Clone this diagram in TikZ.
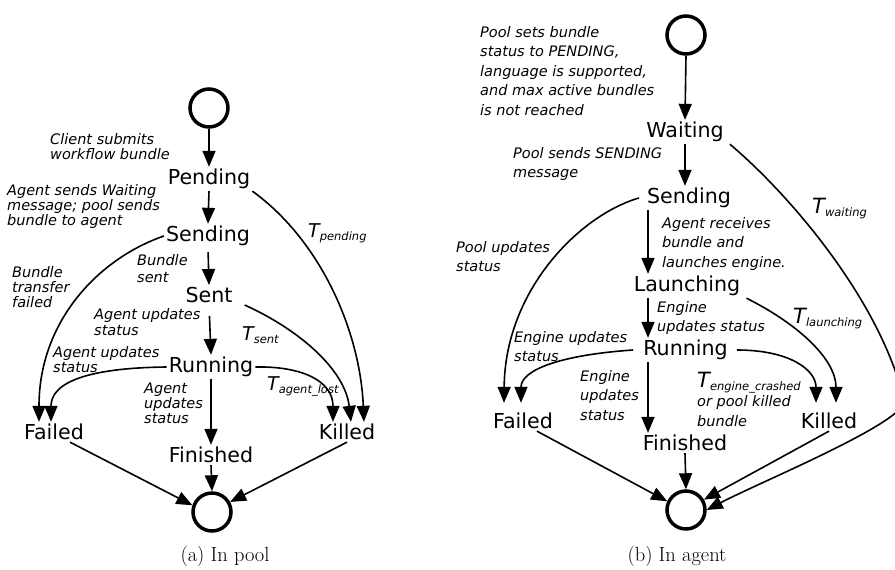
\documentclass[tikz,border=0pt]{standalone}
\usepackage{fontspec}
\usetikzlibrary{arrows.meta,positioning}
\newfontfamily\dejavu{DejaVu Sans}
\newcommand{\Tlab}[1]{T\raisebox{-3.5pt}{\fontsize{11.5}{12}\selectfont #1}}

\begin{document}
\begin{tikzpicture}[x=1pt,y=-1pt,
  state/.style={font=\dejavu\fontsize{20.6}{24}\selectfont, inner sep=2pt},
  term/.style={circle, draw, line width=3.5pt, minimum size=38pt, inner sep=0pt},
  trans/.style={line width=1.6pt, -{Triangle[length=16pt,width=13pt]}},
  lab/.style={font=\dejavu\itshape\fontsize{14.5}{15}\selectfont, align=left, anchor=north west, inner sep=0pt},
  labR/.style={lab, font=\dejavu\itshape\fontsize{14.5}{19.5}\selectfont},
  tlab/.style={font=\dejavu\itshape\fontsize{19}{21}\selectfont, anchor=base west, inner sep=0pt},
  tlabR/.style={tlab, font=\dejavu\itshape\fontsize{21}{23}\selectfont},
  subcap/.style={font=\fontsize{20.5}{22}\selectfont}]
\useasboundingbox (0,0) rectangle (895,570);

% (a) in pool
\node[term] (startL) at (209,108) {};
\node[state] (pendL) at (209,179) {Pending};
\node[state] (sendL) at (208,236) {Sending};
\node[state] (sentL) at (209,295) {Sent};
\node[state] (runL) at (211,367) {Running};
\node[state] (failL) at (54,432) {Failed};
\node[state] (killL) at (347,432) {Killed};
\node[state] (finL) at (211,455) {Finished};
\node[term] (endL) at (212,512) {};

\node[lab] (l1) at (50,133) {Client submits\\workflow bundle};
\node[lab] (l2) at (7,184) {Agent sends Waiting\\message; pool sends\\bundle to agent};
\node[lab] (l3) at (137,254) {Bundle\\[2pt]sent};
\node[lab] (l4) at (12,266) {Bundle\\transfer\\failed};
\node[lab] (l5) at (94,308) {Agent updates\\[1pt]status};
\node[lab] (l6) at (53,346) {Agent updates\\status};
\node[lab] (l7) at (144,383) {Agent\\updates\\status};
\node[tlab] (t1) at (308,237) {\Tlab{pending}};
\node[tlab] (t2) at (242,340) {\Tlab{sent}};
\node[tlab] (t3) at (267,390) {\Tlab{agent\_lost}};

\draw[trans] (startL.south) -- (pendL.north);
\draw[trans] (pendL.south) -- (sendL.north);
\draw[trans, shorten <=4pt] (sendL.south) -- (sentL.north);
\draw[trans, shorten <=11pt] (sentL.south) -- (runL.north);
\draw[trans] (runL.south) -- (finL.north);
\draw[trans] (finL.south) -- (endL.north);
\draw[trans] ([xshift=16pt]failL.south) -- (endL.161);
\draw[trans] (killL.south) -- (endL.29);
\draw[trans] (sendL.west) .. controls (100,258) and (39,320) .. ([xshift=-15pt]failL.north);
\draw[trans] (runL.west) .. controls (80,368) and (51,385) .. ([xshift=-3pt]failL.north);
\draw[trans] (pendL.south east) .. controls (320,240) and (360,330) .. ([xshift=17pt]killL.north);
\draw[trans] ([xshift=10pt]sentL.south east) .. controls (300,330) and (345,370) .. ([xshift=4pt]killL.north);
\draw[trans] (runL.east) .. controls (300,366) and (333,380) .. ([xshift=-14pt]killL.north);

\node[subcap] (capL) at (225,556) {(a) In pool};

% (b) in agent
\node[term] (startR) at (686,35) {};
\node[state] (waitR) at (685,132) {Waiting};
\node[state] (sendR) at (689,198) {Sending};
\node[state] (launR) at (687,286) {Launching};
\node[state] (runR) at (685.5,350) {Running};
\node[state] (failR) at (523,421) {Failed};
\node[state] (killR) at (829,421) {Killed};
\node[state] (finR) at (685,443) {Finished};
\node[term] (endR) at (686,510) {};
\coordinate (colR) at (648,0);
\coordinate (bendR) at (904,400);

\node[labR] (r1) at (480,26) {Pool sets bundle\\status to PENDING,\\language is supported,\\and max active bundles\\is not reached};
\node[labR] (r2) at (513,147) {Pool sends SENDING\\message};
\node[labR] (r3) at (662,217) {Agent receives\\bundle and\\launches engine.};
\node[labR] (r4) at (456,241) {Pool updates\\status};
\node[labR] (r5) at (657,301) {Engine\\updates status};
\node[labR] (r6) at (514,331) {Engine updates\\status};
\node[labR] (r7) at (580,370) {Engine\\updates\\status};
\node[labR] (r8) at (697,371.7) {{\fontsize{21}{19.5}\selectfont\Tlab{engine\_crashed}}\\or pool killed\\bundle};
\node[tlabR] (t4) at (812,213) {\Tlab{waiting}};
\node[tlabR] (t5) at (793,323) {\Tlab{launching}};

\draw[trans] (startR.south) -- (waitR.north);
\draw[trans] (waitR.south) -- (waitR.south |- sendR.north);
\draw[trans] (sendR.south -| colR) -- (launR.north -| colR);
\draw[trans] (launR.south -| colR) -- (runR.north -| colR);
\draw[trans] (runR.south -| colR) -- (finR.north -| colR);
\draw[trans] (finR.south) -- (endR.north);
\draw[trans] ([xshift=14pt]failR.south) -- (endR.155);
\draw[trans] (killR.south) -- (endR.30);
\draw[trans] ([xshift=-6pt]sendR.west) .. controls (580,215) and (505,290) .. ([xshift=-19pt,yshift=8pt]failR.north);
\draw[trans] ([xshift=-8pt]runR.west) .. controls (560,355) and (521,370) .. ([xshift=-2pt,yshift=8pt]failR.north);
\draw[trans] ([xshift=4pt]launR.south east) .. controls (800,325) and (836,360) .. ([xshift=7pt,yshift=8pt]killR.north);
\draw[trans] ([xshift=7pt]runR.east) .. controls (790,350) and (816,370) .. ([xshift=-13pt,yshift=8pt]killR.north);
\draw[trans] ([xshift=4pt]waitR.south east) .. controls (790,195) and (880,300) .. (bendR)
  .. controls (909,421) and (760,482) .. (endR.east);

\node[subcap] (capR) at (677,556) {(b) In agent};
\end{tikzpicture}
\end{document}
